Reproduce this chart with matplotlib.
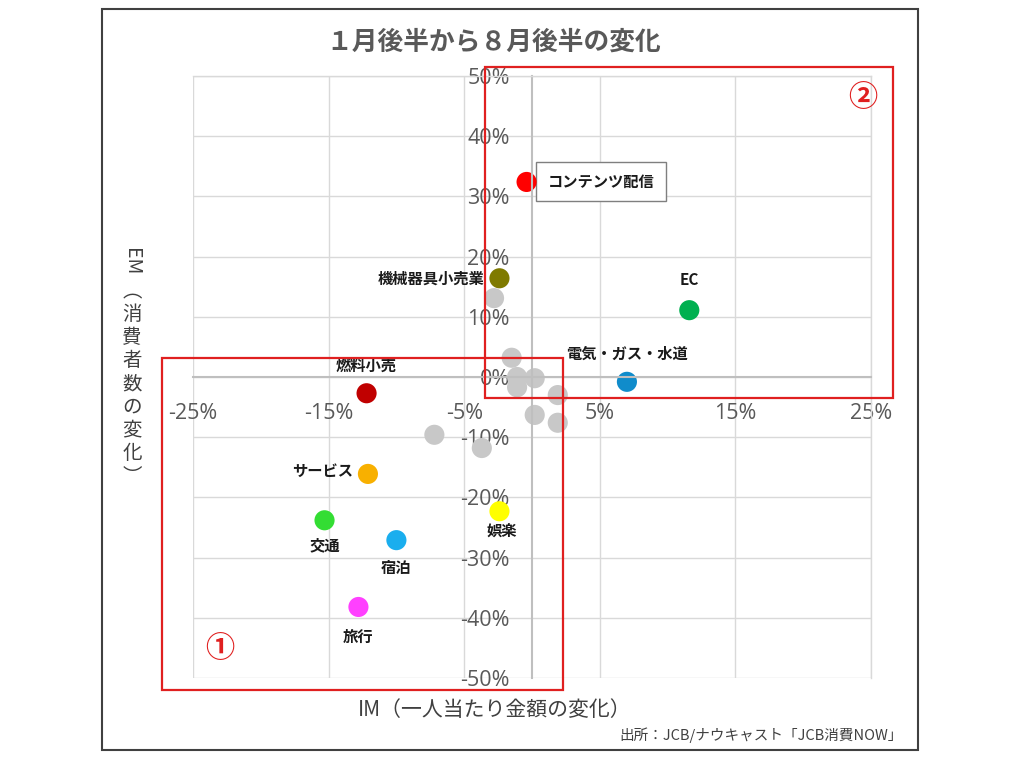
import matplotlib
matplotlib.use("Agg")
import matplotlib.pyplot as plt
from matplotlib.patches import Rectangle

plt.rcParams['font.family'] = ['Noto Sans CJK JP', 'DejaVu Sans']

# ---- data (percent) ----
categories = ["コンテンツ配信", "機械器具小売業", "EC", "電気・ガス・水道", "燃料小売",
              "サービス", "交通", "宿泊", "旅行", "娯楽"]
im_values = [-0.4, -2.4, 11.6, 7.0, -12.2, -12.1, -15.3, -10.0, -12.8, -2.4]
em_values = [32.4, 16.4, 11.1, -0.8, -2.7, -16.1, -23.8, -27.1, -38.2, -22.3]
point_colors = ["#ff0000", "#7f7a00", "#00b050", "#108ccb", "#c00000",
                "#f8b000", "#33dd33", "#1aaeee", "#ff40ff", "#ffff00"]

other_im = [-2.8, -1.5, -1.1, -1.1, 0.2, 1.9, 0.2, 1.9, -7.2, -3.7]
other_em = [13.1, 3.2, 0.0, -1.7, -0.2, -3.0, -6.3, -7.6, -9.6, -11.8]

x_ticks = [-25, -15, -5, 5, 15, 25]
y_ticks = [-50, -40, -30, -20, -10, 0, 10, 20, 30, 40, 50]

title = "１月後半から８月後半の変化"
xlabel = "IM（一人当たり金額の変化）"
ylabel_head = "EM"
ylabel_body = "︵消費者数の変化︶"
source = "出所：JCB/ナウキャスト「JCB消費NOW」"

# label placement: (dx, dy) in points, ha
label_pos = {
    "コンテンツ配信": (15, 0, "left"),
    "機械器具小売業": (-11, 0, "right"),
    "EC": (0, 21.5, "center"),
    "電気・ガス・水道": (0, 20, "center"),
    "燃料小売": (0, 20, "center"),
    "サービス": (-11, 2, "right"),
    "交通": (0, -18, "center"),
    "宿泊": (0, -20, "center"),
    "旅行": (0, -21.5, "center"),
    "娯楽": (2, -15, "center"),
}

fig = plt.figure(figsize=(10.24, 7.68), dpi=100)
fig.patch.set_facecolor("white")

# outer frame
fig.add_artist(Rectangle((102/1024, 1-750/768), (918-102)/1024, (750-9)/768,
                         transform=fig.transFigure, fill=False,
                         edgecolor="#404040", linewidth=1.5))

ax = fig.add_axes([193/1024, 1-678/768, (871-193)/1024, (678-76)/768])
ax.set_xlim(-25, 25)
ax.set_ylim(-50, 50)
ax.set_axisbelow(True)

ax.set_xticks(x_ticks)
ax.set_xticklabels([f"{t}%" for t in x_ticks])
ax.set_yticks(y_ticks)
ax.set_yticklabels([f"{t}%" for t in y_ticks])
ax.grid(True, color="#d9d9d9", linewidth=1)

for s in ["left", "bottom"]:
    ax.spines[s].set_position(("data", 0))
    ax.spines[s].set_color("#bfbfbf")
    ax.spines[s].set_linewidth(1.5)
for s in ["top", "right"]:
    ax.spines[s].set_color("#d9d9d9")
    ax.spines[s].set_linewidth(1)

ax.tick_params(axis="both", length=0, labelcolor="#595959", labelsize=15.5)
ax.tick_params(axis="x", pad=19)
ax.tick_params(axis="y", pad=16)
for lab in ax.get_xticklabels() + ax.get_yticklabels():
    lab.set_fontfamily(["Open Sans", "DejaVu Sans"])

# points
ax.scatter(other_im, other_em, s=210, color="#c8c8c8", edgecolors="none", zorder=2)
ax.scatter(im_values, em_values, s=210, c=point_colors, edgecolors="none", zorder=2.2)

for name, x, y in zip(categories, im_values, em_values):
    dx, dy, ha = label_pos[name]
    kw = {}
    z = 3
    if name == "コンテンツ配信":
        kw["bbox"] = dict(boxstyle="square,pad=0.75", facecolor="white",
                          edgecolor="#7f7f7f", linewidth=1)
        z = 1.8
    ax.annotate(name, (x, y), xytext=(dx, dy), textcoords="offset points",
                ha=ha, va="center", fontsize=11, fontweight="bold",
                color="#1a1a1a", zorder=z, **kw)

# red highlight frames
ax.add_patch(Rectangle((-27.3, -52.0), 29.6, 55.2, fill=False, edgecolor="#e02020",
                       linewidth=1.6, clip_on=False, zorder=5))
ax.add_patch(Rectangle((-3.5, -3.5), 30.1, 55.0, fill=False, edgecolor="#e02020",
                       linewidth=1.6, clip_on=False, zorder=5))
ax.text(-23.0, -45.0, "①", color="#e02020", fontsize=21, ha="center", va="center",
        fontweight="bold", clip_on=False, zorder=5)
ax.text(24.4, 46.5, "②", color="#e02020", fontsize=21, ha="center", va="center",
        fontweight="bold", clip_on=False, zorder=5)

# texts
fig.text(494/1024, 1-42/768, title, ha="center", va="center", fontsize=18.5,
         color="#595959", fontweight="bold")
fig.text(495/1024, 1-710/768, xlabel, ha="center", va="center", fontsize=15,
         color="#404040")
fig.text(132/1024, 1-262/768, ylabel_head, ha="center", va="center", fontsize=14,
         rotation=-90, color="#404040")
fig.text(132/1024, 1-384/768, "\n".join(ylabel_body), ha="center", va="center",
         fontsize=14, linespacing=1.13, color="#404040")
fig.text(903/1024, 1-735/768, source, ha="right", va="center", fontsize=10.5,
         color="#404040")

fig.savefig("out.png", dpi=100, facecolor="white")
